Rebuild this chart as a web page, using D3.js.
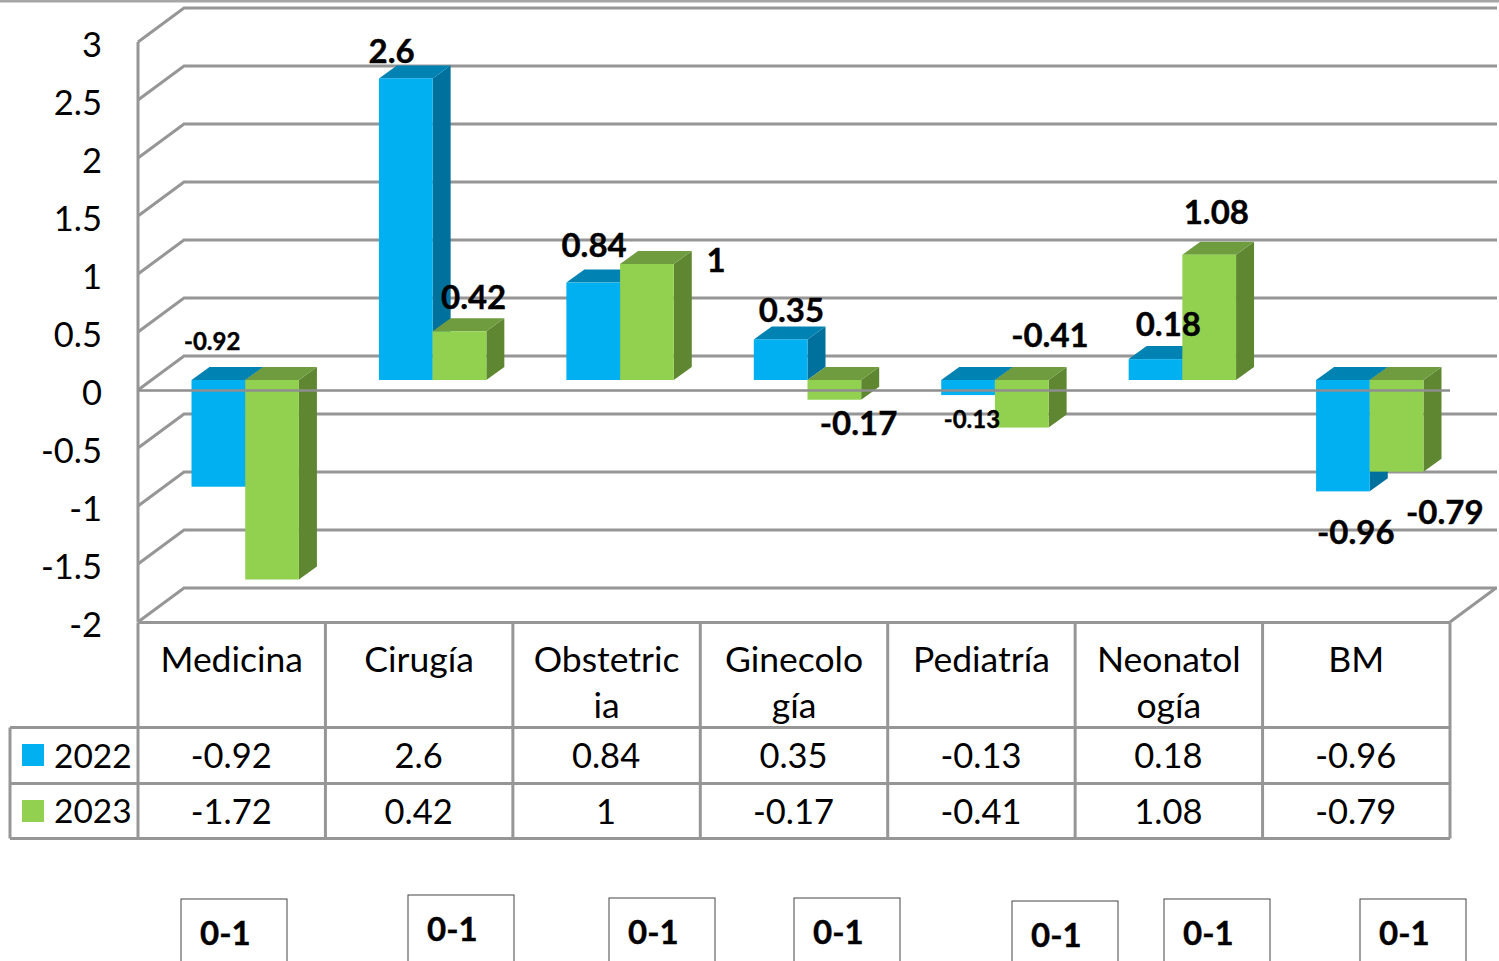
<!DOCTYPE html>
<html><head><meta charset="utf-8">
<script src="https://cdn.jsdelivr.net/npm/d3@7/dist/d3.min.js"></script>
<style>html,body{margin:0;padding:0;background:#fff}svg{display:block}text{font-family:Lato,sans-serif;fill:#000}</style>
</head><body><div id="chart"></div>
<script>
const categories = ["Medicina","Cirugía","Obstetricia","Ginecología","Pediatría","Neonatología","BM"];
const categoryLines = [["Medicina"],["Cirugía"],["Obstetric","ia"],["Ginecolo","gía"],["Pediatría"],["Neonatol","ogía"],["BM"]];
const seriesNames = ["2022","2023"];
const values2022 = [-0.92,2.6,0.84,0.35,-0.13,0.18,-0.96];
const values2023 = [-1.72,0.42,1,-0.17,-0.41,1.08,-0.79];
const yTicks = [3,2.5,2,1.5,1,0.5,0,-0.5,-1,-1.5,-2];
const boxLabels = ["0-1","0-1","0-1","0-1","0-1","0-1","0-1"];

// layout only
const W=1499,H=961;
const seriesColors=[{front:"#00B0F0",top:"#0083B2",side:"#00719C"},{front:"#92D050",top:"#6E9C3E",side:"#5F8732"}];
const labelNudge2022=[[-6,-137],[-14,-15],[1,-26],[11,-17],[4,33],[13,-23],[13,53]];
const labelNudge2023=[null,[14,-22],[69,8],[24,35],[28,-81],[7,-31],[48,52]];
const smallLabels2022=[true,false,false,false,true,false,false];
const boxPos=[[181,899],[408,895],[609,898],[794,898],[1012,901],[1164,899],[1360,899]];

const GRID="#969696",CAT=35.5,NUM=34.5,BOLD=33,SMALL=24;
const svg=d3.select("#chart").append("svg").attr("width",W).attr("height",H);
const x=d3.scaleBand().domain(categories).range([138,1450]);
const y=d3.scaleLinear().domain([-2,3]).range([622,42]);
const backDX=46,backDY=-34,planeDX=13.5,planeDY=-10,depthX=18,depthY=-13,barW=53.7;
const fmt=v=>String(v);

// top edge
svg.append("line").attr("x1",0).attr("x2",W).attr("y1",1).attr("y2",1).attr("stroke","#A6A6A6").attr("stroke-width",3);

// grid
const grid=svg.append("g").attr("fill","none").attr("stroke",GRID).attr("stroke-width",3);
grid.selectAll("path.g").data(yTicks).join("path")
  .attr("d",t=>`M${x.range()[0]},${y(t)}L${x.range()[0]+backDX},${y(t)+backDY}L${W-2},${y(t)+backDY}`);
grid.append("line").attr("x1",138).attr("x2",138).attr("y1",y(3)).attr("y2",y(-2));
grid.append("path").attr("d",`M1450,${y(-2)}L1496,${y(-2)+backDY}`);

// bars
const series=[values2022,values2023];
const barsG=svg.append("g");
categories.forEach((c,i)=>{
  series.forEach((vals,s)=>{
    const v=vals[i],col=seriesColors[s];
    const x0=x(c)+x.bandwidth()/2-barW+planeDX+s*barW,x1=x0+barW;
    const yv=y(v)+planeDY,y0=y(0)+planeDY;
    const top=Math.min(yv,y0),bot=Math.max(yv,y0);
    const g=barsG.append("g");
    g.append("path").attr("d",`M${x1},${top}L${x1+depthX},${top+depthY}L${x1+depthX},${bot+depthY}L${x1},${bot}Z`).attr("fill",col.side);
    g.append("path").attr("d",`M${x0},${top}L${x0+depthX},${top+depthY}L${x1+depthX},${top+depthY}L${x1},${top}Z`).attr("fill",col.top);
    g.append("rect").attr("x",x0).attr("y",top).attr("width",barW).attr("height",bot-top).attr("fill",col.front);
  });
});
// zero axis over bars
svg.append("line").attr("x1",138).attr("x2",1450).attr("y1",y(0)+0.5).attr("y2",y(0)+0.5).attr("stroke","#8E8E8E").attr("stroke-width",2.5);

// y labels
svg.append("g").selectAll("text").data(yTicks).join("text")
  .attr("x",102).attr("y",t=>y(t)+15).attr("text-anchor","end").attr("font-size",NUM).text(fmt);

// data labels
categories.forEach((c,i)=>{
  series.forEach((vals,s)=>{
    const n=(s?labelNudge2023:labelNudge2022)[i];
    if(!n) return;
    const cx=x(c)+x.bandwidth()/2-54+planeDX+s*54+27;
    const small=s===0&&smallLabels2022[i];
    svg.append("text").attr("x",cx+n[0]).attr("y",y(vals[i])+planeDY+n[1])
      .attr("text-anchor","middle").attr("font-weight",700).attr("font-size",small?SMALL:BOLD)
      .style("stroke","#000").style("stroke-width",0.4).text(fmt(vals[i]));
  });
});

// data table
const rowsY=[622.5,727.5,783.5,838.5];
const t=svg.append("g").attr("stroke",GRID).attr("stroke-width",3);
x.domain().forEach(c=>t.append("line").attr("x1",x(c)).attr("x2",x(c)).attr("y1",rowsY[0]).attr("y2",rowsY[3]));
t.append("line").attr("x1",1450).attr("x2",1450).attr("y1",rowsY[0]).attr("y2",rowsY[3]);
t.append("line").attr("x1",138).attr("x2",1450).attr("y1",rowsY[0]).attr("y2",rowsY[0]);
rowsY.slice(1).forEach(r=>t.append("line").attr("x1",10).attr("x2",1450).attr("y1",r).attr("y2",r));
t.append("line").attr("x1",10).attr("x2",10).attr("y1",rowsY[1]).attr("y2",rowsY[3]);

categories.forEach((c,i)=>{
  const cx=x(c)+x.bandwidth()/2;
  categoryLines[i].forEach((l,k)=>svg.append("text").attr("x",cx).attr("y",672+k*46).attr("text-anchor","middle").attr("font-size",CAT).text(l));
  series.forEach((vals,s)=>svg.append("text").attr("x",cx-0.5).attr("y",767.5+s*56).attr("text-anchor","middle").attr("font-size",NUM).text(fmt(vals[i])));
});
seriesNames.forEach((n,s)=>{
  svg.append("rect").attr("x",22).attr("y",744+s*56).attr("width",22).attr("height",22).attr("fill",seriesColors[s].front);
  svg.append("text").attr("x",54).attr("y",767.5+s*55).attr("font-size",33.5).text(n);
});

// boxes
boxLabels.forEach((l,i)=>{
  const [bx,by]=boxPos[i];
  svg.append("rect").attr("x",bx).attr("y",by).attr("width",106).attr("height",H-by+5).attr("fill","#fff").attr("stroke","#444").attr("stroke-width",1);
  svg.append("text").attr("x",bx+19).attr("y",by+46).attr("font-weight",700).attr("font-size",BOLD).style("stroke","#000").style("stroke-width",0.4).text(l);
});
</script></body></html>
